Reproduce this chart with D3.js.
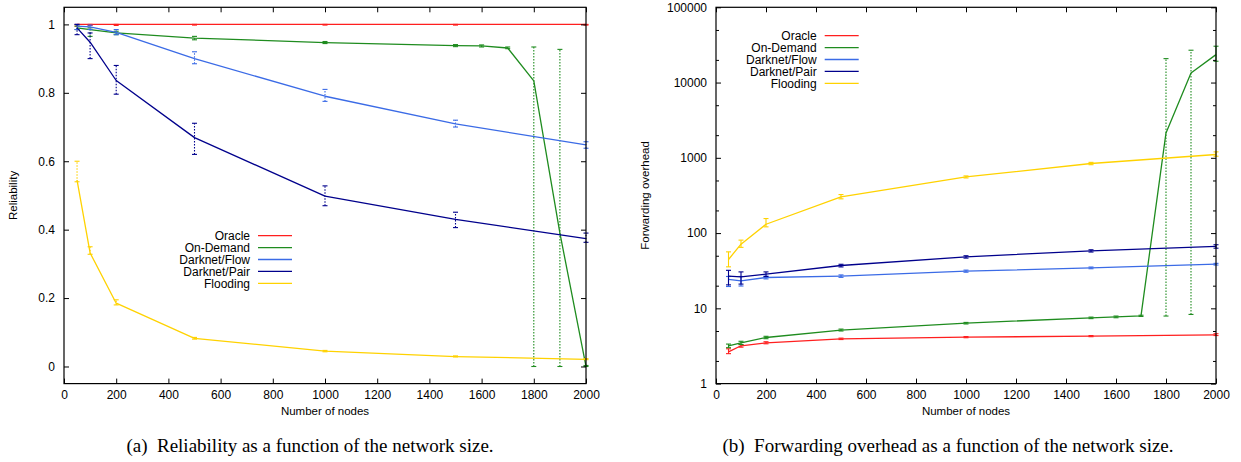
<!DOCTYPE html>
<html><head><meta charset="utf-8">
<script src="https://cdn.jsdelivr.net/npm/d3@7"></script>
<style>
body{margin:0;background:#fff;}
text{font-family:"Liberation Sans",Arial,sans-serif;fill:#000;}
.cap{font-family:"Liberation Serif","Times New Roman",serif;}
</style></head>
<body><svg id="c" width="1241" height="462"></svg>
<script>
// ---------- data ----------
const nodes = [50, 100, 200, 500, 1000, 1500, 2000];
const onDemandNodes = [50, 100, 200, 500, 1000, 1500, 1600, 1700, 1800, 1900, 2000];
const seriesNames = ["Oracle", "On-Demand", "Darknet/Flow", "Darknet/Pair", "Flooding"];
const seriesColors = ["#ff1f1f", "#1f8c1f", "#3b6be6", "#00008c", "#ffd200"];

// (a) Reliability
const relOracle = [1, 1, 1, 1, 1, 1, 1];
const relOracleLo = [0.995, 0.997, 0.997, 0.998, 0.998, 0.998, 0.998];
const relOracleHi = [1, 1, 1, 1, 1, 1, 1];
const relOnDemand = [0.99, 0.985, 0.975, 0.96, 0.947, 0.938, 0.937, 0.931, 0.835, 0.39, 0.0];
const relOnDemandLo = [0.985, 0.965, 0.97, 0.955, 0.944, 0.935, 0.934, 0.929, 0.0, 0.0, 0.0];
const relOnDemandHi = [0.995, 0.99, 0.98, 0.965, 0.95, 0.941, 0.94, 0.934, 0.934, 0.927, 0.003];
const relFlow = [0.995, 0.993, 0.977, 0.90, 0.79, 0.709, 0.648];
const relFlowLo = [0.985, 0.985, 0.97, 0.885, 0.775, 0.70, 0.638];
const relFlowHi = [1.0, 0.998, 0.985, 0.92, 0.81, 0.72, 0.657];
const relPair = [0.99, 0.948, 0.836, 0.669, 0.498, 0.43, 0.374];
const relPairLo = [0.97, 0.90, 0.796, 0.62, 0.47, 0.406, 0.363];
const relPairHi = [1.0, 0.975, 0.88, 0.711, 0.528, 0.451, 0.39];
const relFlood = [0.545, 0.332, 0.185, 0.082, 0.045, 0.029, 0.021];
const relFloodLo = [0.54, 0.328, 0.18, 0.08, 0.043, 0.028, 0.02];
const relFloodHi = [0.60, 0.35, 0.195, 0.085, 0.047, 0.031, 0.023];

// (b) Forwarding overhead
const ovOracle = [2.64, 3.18, 3.48, 3.93, 4.14, 4.27, 4.45];
const ovOracleLo = [2.5, 3.05, 3.38, 3.85, 4.07, 4.2, 4.35];
const ovOracleHi = [2.9, 3.3, 3.6, 4.02, 4.22, 4.35, 4.6];
const ovOnDemand = [3.18, 3.48, 4.1, 5.13, 6.36, 7.48, 7.7, 7.95, 2140, 13400, 23500];
const ovOnDemandLo = [3.0, 3.3, 3.95, 5.0, 6.2, 7.3, 7.5, 7.8, 7.9, 8.3, 19200];
const ovOnDemandHi = [3.35, 3.65, 4.25, 5.3, 6.5, 7.65, 7.9, 8.1, 20800, 26900, 30400];
const ovFlow = [24.2, 23.2, 25.7, 26.8, 31.2, 34.5, 38.6];
const ovFlowLo = [19.5, 19.8, 24.6, 25.8, 30.2, 33.6, 37.6];
const ovFlowHi = [26.5, 26.5, 26.8, 27.8, 32.2, 35.4, 39.6];
const ovPair = [26.8, 26.2, 28.5, 37.1, 48.3, 58, 66.4];
const ovPairLo = [20.5, 21, 26.5, 35.5, 46.5, 56, 63];
const ovPairHi = [32, 30.5, 30.5, 38.5, 50, 60, 70];
const ovFlood = [44.6, 71.2, 131, 303, 557, 840, 1107];
const ovFloodLo = [35.6, 64.6, 121, 285, 540, 810, 1050];
const ovFloodHi = [56.3, 80.6, 156, 325, 575, 870, 1200];

const xTicks = [0, 200, 400, 600, 800, 1000, 1200, 1400, 1600, 1800, 2000];
const relTicks = [0, 0.2, 0.4, 0.6, 0.8, 1];
const ovTicks = [1, 10, 100, 1000, 10000, 100000];
const ovMinor = [2, 5, 20, 50, 200, 500, 2000, 5000, 20000, 50000];

function mk(xs, v, lo, hi){ return xs.map((x,i)=>({x, y:v[i], lo:lo[i], hi:hi[i]})); }

const svg = d3.select("#c");

function panel(cfg){
  const g = svg.append("g");
  const x = d3.scaleLinear().domain([0,2000]).range([cfg.left, cfg.right]);
  const y = cfg.y;
  const top = 7.3, bottom = 383.6;
  cfg.series.forEach((s, si)=>{
    const col = seriesColors[si];
    const line = d3.line().x(d=>x(d.x)).y(d=>y(d.y));
    g.append("path").datum(s.data).attr("d", line).attr("fill","none")
      .attr("stroke", col).attr("stroke-width", 1.3).attr("stroke-linejoin","round");
    const eb = g.append("g").attr("stroke", col).attr("stroke-width", 1.1);
    s.data.forEach(d=>{
      const dotted = cfg.dotted || (y(d.lo) - y(d.hi) > 60);
      eb.append("line").attr("x1", x(d.x)).attr("x2", x(d.x))
        .attr("y1", y(d.lo)).attr("y2", y(d.hi))
        .attr("stroke-dasharray", dotted ? "1.5,1.5" : null);
      [d.lo, d.hi].forEach(v=>{
        eb.append("line").attr("x1", x(d.x)-2.5).attr("x2", x(d.x)+2.5)
          .attr("y1", y(v)).attr("y2", y(v));
      });
    });
  });
  g.append("rect").attr("x", cfg.left).attr("y", top).attr("width", cfg.right-cfg.left)
    .attr("height", bottom-top).attr("fill","none").attr("stroke","#000").attr("stroke-width",1.2);
  g.append("g").attr("transform", `translate(0,${bottom})`)
    .call(d3.axisBottom(x).tickValues(xTicks).tickSize(-5).tickPadding(7).tickFormat(d3.format("d")));
  g.append("g").attr("transform", `translate(0,${top})`)
    .call(d3.axisTop(x).tickValues(xTicks).tickSize(-5).tickFormat(""));
  g.append("g").attr("transform", `translate(${cfg.left},0)`)
    .call(d3.axisLeft(y).tickValues(cfg.yTicks).tickSize(-5).tickPadding(9).tickFormat(cfg.fmt));
  g.append("g").attr("transform", `translate(${cfg.right},0)`)
    .call(d3.axisRight(y).tickValues(cfg.yTicks).tickSize(-5).tickFormat(""));
  if (cfg.minor){
    g.append("g").attr("transform", `translate(${cfg.left},0)`)
      .call(d3.axisLeft(y).tickValues(cfg.minor).tickSize(-3).tickFormat(""));
    g.append("g").attr("transform", `translate(${cfg.right},0)`)
      .call(d3.axisRight(y).tickValues(cfg.minor).tickSize(-3).tickFormat(""));
  }
  g.selectAll(".domain").remove();
  g.selectAll(".tick line").attr("stroke","#000").attr("stroke-width",1);
  g.selectAll(".tick text").attr("font-size", 12).attr("font-family","Liberation Sans, Arial, sans-serif");
  const cx = (cfg.left+cfg.right)/2;
  g.append("text").attr("x", cx).attr("y", 415).attr("text-anchor","middle")
    .attr("font-size", 11.5).text("Number of nodes");
  g.append("text").attr("transform", `translate(${cfg.ylabX},${(top+bottom)/2}) rotate(-90)`)
    .attr("text-anchor","middle").attr("font-size", 11.5).text(cfg.ylab);
  const lg = g.append("g");
  seriesNames.forEach((n,i)=>{
    const yy = cfg.legY + i*11.9;
    lg.append("text").attr("x", cfg.legX).attr("y", yy).attr("dy","0.35em")
      .attr("text-anchor","end").attr("font-size", 12).text(n);
    lg.append("line").attr("x1", cfg.legX+8).attr("x2", cfg.legX+42)
      .attr("y1", yy).attr("y2", yy).attr("stroke", seriesColors[i]).attr("stroke-width", 1.3);
  });
  g.append("text").attr("class","cap").attr("x", cfg.capX).attr("y", 452).attr("text-anchor","middle")
    .attr("font-size", 19).style("white-space","pre").text(cfg.caption);
}

panel({
  left: 64, right: 586,
  y: d3.scaleLinear().domain([-0.05, 1.05]).range([383.6, 7.3]),
  yTicks: relTicks, fmt: d=> d===0||d===1 ? String(d) : d.toFixed(1),
  dotted: true,
  ylab: "Reliability", ylabX: 17,
  legX: 250, legY: 235.7,
  capX: 310,
  caption: "(a)  Reliability as a function of the network size.",
  series: [
    {data: mk(nodes, relOracle, relOracleLo, relOracleHi)},
    {data: mk(onDemandNodes, relOnDemand, relOnDemandLo, relOnDemandHi)},
    {data: mk(nodes, relFlow, relFlowLo, relFlowHi)},
    {data: mk(nodes, relPair, relPairLo, relPairHi)},
    {data: mk(nodes, relFlood, relFloodLo, relFloodHi)}
  ]
});

panel({
  left: 716, right: 1216,
  y: d3.scaleLog().domain([1, 100000]).range([383.6, 7.3]),
  yTicks: ovTicks, fmt: d3.format("d"), minor: ovMinor,
  dotted: false,
  ylab: "Forwarding overhead", ylabX: 649,
  legX: 816.7, legY: 35.7,
  capX: 948,
  caption: "(b)  Forwarding overhead as a function of the network size.",
  series: [
    {data: mk(nodes, ovOracle, ovOracleLo, ovOracleHi)},
    {data: mk(onDemandNodes, ovOnDemand, ovOnDemandLo, ovOnDemandHi)},
    {data: mk(nodes, ovFlow, ovFlowLo, ovFlowHi)},
    {data: mk(nodes, ovPair, ovPairLo, ovPairHi)},
    {data: mk(nodes, ovFlood, ovFloodLo, ovFloodHi)}
  ]
});
</script></body></html>
